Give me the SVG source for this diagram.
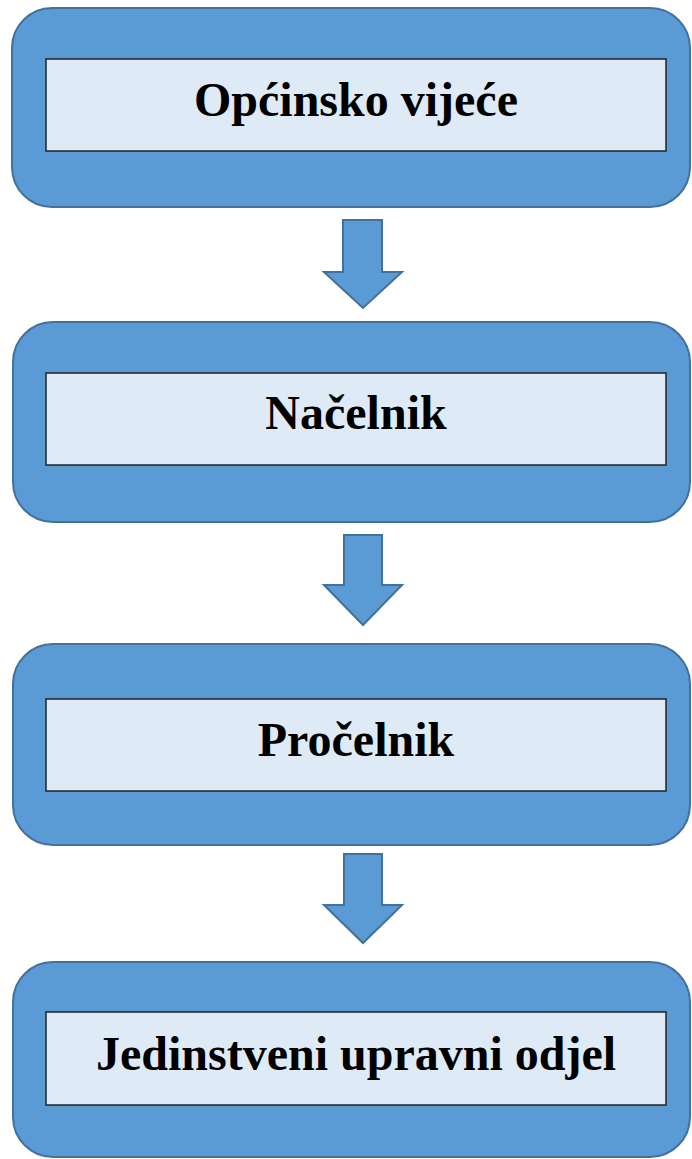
<svg xmlns="http://www.w3.org/2000/svg" width="692" height="1159" viewBox="0 0 692 1159">
<style>
.outer{fill:#5B9BD5;stroke:#41719C;stroke-width:2}
.inner{fill:#DEEBF7;stroke:#222;stroke-width:1.5}
.arrow{fill:#5B9BD5;stroke:#41719C;stroke-width:2;stroke-linejoin:miter}
.lbl{font-family:"Liberation Serif","Times New Roman",serif;font-weight:bold;font-size:48px;fill:#000;text-anchor:middle}
</style>
<rect width="692" height="1159" fill="#fff"/>
<g id="node1">
<rect class="outer" x="12" y="8" width="678" height="199" rx="40"/>
<rect class="inner" x="46" y="59" width="620" height="92"/>
<text class="lbl" x="356" y="116">Općinsko vijeće</text>
</g>
<g id="node2">
<rect class="outer" x="13" y="322" width="677" height="200" rx="40"/>
<rect class="inner" x="46" y="373" width="620" height="92"/>
<text class="lbl" x="356" y="429">Načelnik</text>
</g>
<g id="node3">
<rect class="outer" x="13" y="644" width="677" height="201" rx="40"/>
<rect class="inner" x="46" y="699" width="620" height="92"/>
<text class="lbl" x="356" y="756">Pročelnik</text>
</g>
<g id="node4">
<rect class="outer" x="13" y="962" width="677" height="195" rx="40"/>
<rect class="inner" x="46" y="1012" width="620" height="93"/>
<text class="lbl" x="356" y="1070">Jedinstveni upravni odjel</text>
</g>
<g id="connectors">
<path class="arrow" d="M343,220 H382 V272 H402 L363,308 L324,272 H343 Z"/>
<path class="arrow" d="M344,535 H382 V585 H402 L363,625 L324,585 H344 Z"/>
<path class="arrow" d="M344,854 H382 V905 H402 L363,943 L324,905 H344 Z"/>
</g>
</svg>
